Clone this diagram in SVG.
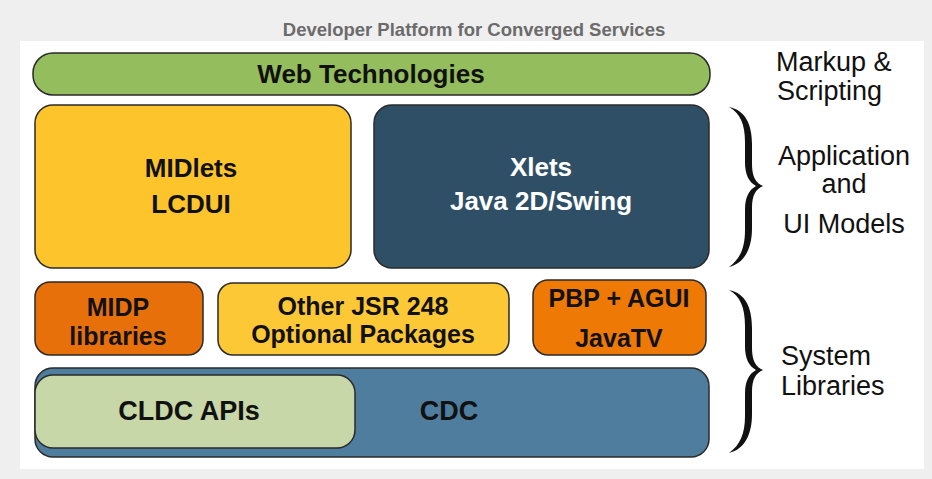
<svg xmlns="http://www.w3.org/2000/svg" width="932" height="479" viewBox="0 0 932 479">
<style>
.box{stroke:#2a2a2a;stroke-width:1.5}
.t{font-family:"Liberation Sans",Arial,sans-serif;font-weight:bold;text-anchor:middle;fill:#111}
.w{fill:#ffffff}
.lbl{font-family:"Liberation Sans",Arial,sans-serif;font-size:27px;fill:#111}
.brace{fill:#111}
</style>
<rect x="0" y="0" width="932" height="479" fill="#efefef"/>
<rect x="20" y="41" width="904" height="428" fill="#ffffff"/>
<text x="474" y="36" font-family="'Liberation Sans',Arial,sans-serif" font-weight="bold" font-size="18.5" fill="#6b6b6b" text-anchor="middle">Developer Platform for Converged Services</text>

<g id="web">
<rect class="box" x="33" y="53" width="677" height="42" rx="20" fill="#94bd5e"/>
<text class="t" x="371" y="83" font-size="26">Web Technologies</text>
</g>
<g id="midlets">
<rect class="box" x="35" y="105" width="316" height="163" rx="18" fill="#fdc42b"/>
<text class="t" x="191" y="177" font-size="26">MIDlets</text>
<text class="t" x="191" y="213" font-size="26">LCDUI</text>
</g>
<g id="xlets">
<rect class="box" x="374" y="105" width="335" height="163" rx="18" fill="#2f4f66"/>
<text class="t w" x="541" y="176" font-size="26">Xlets</text>
<text class="t w" x="541" y="210" font-size="26">Java 2D/Swing</text>
</g>
<g id="midp">
<rect class="box" x="35" y="282" width="168" height="73" rx="15" fill="#e8700a"/>
<text class="t" x="118" y="316" font-size="25">MIDP</text>
<text class="t" x="118" y="345" font-size="25">libraries</text>
</g>
<g id="jsr248">
<rect class="box" x="218" y="283" width="291" height="72" rx="15" fill="#fdc836"/>
<text class="t" x="363" y="315" font-size="25">Other JSR 248</text>
<text class="t" x="363" y="343" font-size="25">Optional Packages</text>
</g>
<g id="pbp">
<rect class="box" x="533" y="280" width="173" height="75" rx="15" fill="#ee7a05"/>
<text class="t" x="619" y="307" font-size="25">PBP + AGUI</text>
<text class="t" x="619" y="347" font-size="25">JavaTV</text>
</g>
<g id="cdc">
<rect class="box" x="35" y="368" width="674" height="89" rx="18" fill="#4e7d9e"/>
<text class="t" x="449" y="420" font-size="27">CDC</text>
</g>
<g id="cldc">
<rect class="box" x="35" y="375" width="320" height="73" rx="18" fill="#c8d7a8"/>
<text class="t" x="189" y="420" font-size="27">CLDC APIs</text>
</g>

<g id="connectors">
<path class="brace" d="M729,107 C745,110 752,124 752,144 L752,164 C752,177 756,183 763,186 C756,189 752,195 752,208 L752,228 C752,248 745,263 729,267 C740,259 745,248 745,230 L745,210 C745,197 749,190 756,186 C749,182 745,175 745,162 L745,142 C745,124 740,113 729,107 Z"/>
<path class="brace" d="M729,290 C745,293 752,307 752,328 L752,348 C752,361 756,367 763,370 C756,373 752,379 752,392 L752,414 C752,434 745,449 729,453 C740,445 745,434 745,416 L745,394 C745,381 749,374 756,370 C749,366 745,359 745,346 L745,326 C745,307 740,296 729,290 Z"/>
</g>

<g id="labels">
<text class="lbl" x="776" y="71">Markup &amp;</text>
<text class="lbl" x="777" y="100">Scripting</text>
<text class="lbl" x="844" y="165" text-anchor="middle">Application</text>
<text class="lbl" x="844" y="193" text-anchor="middle">and</text>
<text class="lbl" x="844" y="233" text-anchor="middle">UI Models</text>
<text class="lbl" x="781" y="365">System</text>
<text class="lbl" x="781" y="395">Libraries</text>
</g>
</svg>
